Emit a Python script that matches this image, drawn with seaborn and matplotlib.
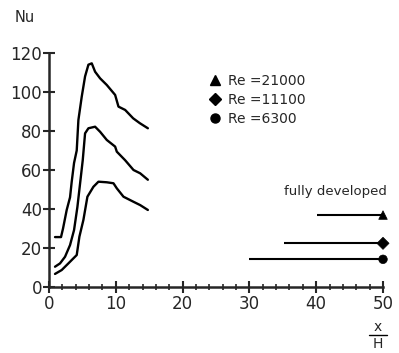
import matplotlib
matplotlib.use("Agg")
import matplotlib.pyplot as plt
import seaborn as sns
import pandas as pd
import numpy as np
from matplotlib.lines import Line2D

# Local Nusselt curves
x_21000 = [0.9, 1.8, 2.1, 2.65, 3.15, 3.4, 3.75, 4.15, 4.4, 4.9, 5.4, 5.9, 6.4, 6.9, 7.65, 8.65, 9.9, 10.4, 11.4, 12.6, 13.6, 14.8]
nu_21000 = [25.6, 25.6, 30, 39.5, 46, 54, 63.6, 70, 85.6, 97.6, 108, 114, 114.7, 110.4, 107, 103.6, 98.5, 92.5, 90.8, 86.5, 84, 81.4]
x_11100 = [0.9, 1.65, 2.4, 3.15, 3.75, 4.25, 4.65, 5.05, 5.4, 5.9, 6.9, 7.65, 8.65, 9.9, 10.15, 11.4, 12.65, 13.65, 14.8]
nu_11100 = [10.4, 12.1, 15.5, 21.5, 29.2, 41, 53, 65, 78.8, 81.4, 82.2, 79.6, 75.4, 72, 69.4, 65, 60, 58.3, 55]
x_6300 = [0.9, 1.9, 2.9, 4.15, 4.55, 5.15, 5.75, 6.65, 7.4, 8.65, 9.65, 10.15, 11.15, 12.65, 13.65, 14.8]
nu_6300 = [6.7, 8.7, 12.1, 16.4, 25.8, 34.4, 46.3, 51.4, 54, 53.7, 53.2, 50.6, 46.3, 43.7, 42, 39.5]

# Fully developed values
labels = ["Re =21000", "Re =11100", "Re =6300"]
fd_nu = [36.9, 22.4, 14.2]
fd_start = [40.1, 35.2, 30.0]
fd_x = [50, 50, 50]
markers = ["^", "D", "o"]

sns.set_style("ticks")
plt.rcParams['font.family'] = ['DejaVu Sans']

fig = plt.figure(figsize=(3.99, 3.53), dpi=100)
ax = fig.add_axes([49/399, 1-287/353, 334/399, 234/353])

curves = pd.concat([
    pd.DataFrame({"x": x_21000, "Nu": nu_21000, "Re": labels[0]}),
    pd.DataFrame({"x": x_11100, "Nu": nu_11100, "Re": labels[1]}),
    pd.DataFrame({"x": x_6300, "Nu": nu_6300, "Re": labels[2]}),
])
for lab in labels:
    sns.lineplot(data=curves[curves.Re == lab], x="x", y="Nu", color="black",
                 linewidth=1.7, sort=False, estimator=None, ax=ax, legend=False)

for s, v in zip(fd_start, fd_nu):
    ax.hlines(v, s, 50, color="black", linewidth=1.5)

fd = pd.DataFrame({"x": fd_x, "Nu": fd_nu, "Re": labels})
sns.scatterplot(data=fd, x="x", y="Nu", style="Re", markers=dict(zip(labels, markers)),
                color="black", s=38, edgecolor="black", clip_on=False, ax=ax, legend=False, zorder=5)

# legend
handles = [Line2D([], [], marker=m, color="black", linestyle="none", markersize=6.5) for m in markers]
leg = ax.legend(handles, labels, frameon=False, loc="upper left", bbox_to_anchor=(0.455, 0.94),
                handletextpad=0.45, labelspacing=0.35, borderpad=0, handlelength=1.0, fontsize=10)

ax.text(50.6, 47.0, "fully developed", ha="right", va="baseline", fontsize=9.5)

ax.set_xlim(0, 50)
ax.set_ylim(0, 120)
ax.set_xticks([0, 10, 20, 30, 40, 50])
ax.set_xticks(np.arange(0, 51, 2), minor=True)
ax.set_yticks([0, 20, 40, 60, 80, 100, 120])
ax.set_xticklabels(["0", "10", "20", "30", "40", "50"])
ax.set_yticklabels(["0", "20", "40", "60", "80", "100", "120"])
ax.tick_params(axis="x", which="major", direction="inout", length=8, width=1.5, labelsize=12, pad=2)
ax.tick_params(axis="x", which="minor", direction="inout", length=5, width=1.2)
ax.tick_params(axis="y", which="major", direction="inout", length=8, width=1.5, labelsize=12, pad=1)
for sp in ["top", "right"]:
    ax.spines[sp].set_visible(False)
for sp in ["left", "bottom"]:
    ax.spines[sp].set_linewidth(1.8)
ax.set_xlabel("")
ax.set_ylabel("")

fig.text(15/399, 1-18/353, "Nu", fontsize=10.5, ha="left", va="center")
fig.text(378/399, 1-327/353, "x", fontsize=10, ha="center", va="center")
fig.add_artist(Line2D([369/399, 387/399], [1-335/353, 1-335/353], color="black", linewidth=1.0))
fig.text(378/399, 1-344/353, "H", fontsize=10, ha="center", va="center")

fig.savefig("out.png", dpi=100)
